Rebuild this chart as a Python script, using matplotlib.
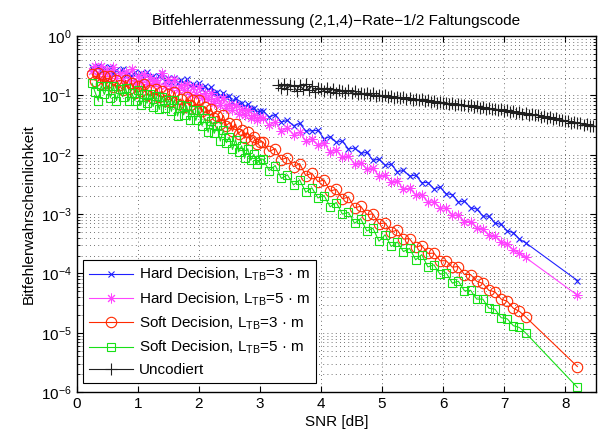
import numpy as np
import matplotlib
matplotlib.use("Agg")
import matplotlib.pyplot as plt

plt.rcParams['font.family'] = ['Liberation Sans', 'DejaVu Sans']
plt.rcParams['mathtext.fontset'] = 'custom'
plt.rcParams['mathtext.rm'] = 'Liberation Sans'
plt.rcParams['mathtext.it'] = 'Liberation Sans:italic'

# SNR grid of the coded measurements [dB]
snr_coded = [
    0.25, 0.30, 0.35, 0.40, 0.45, 0.50, 0.55, 0.60, 0.65, 0.70,
    0.75, 0.80, 0.85, 0.90, 0.95, 1.00, 1.05, 1.10, 1.15, 1.20,
    1.25, 1.30, 1.35, 1.40, 1.45, 1.50, 1.55, 1.60, 1.65, 1.70,
    1.75, 1.80, 1.85, 1.90, 1.95, 2.00, 2.05, 2.10, 2.15, 2.20,
    2.25, 2.30, 2.35, 2.40, 2.45, 2.50, 2.55, 2.60, 2.65, 2.70,
    2.75, 2.80, 2.85, 2.90, 2.95, 3.00,
    3.05, 3.15, 3.25, 3.35, 3.45, 3.55, 3.65, 3.75, 3.85, 3.95,
    4.05, 4.15, 4.25, 4.35, 4.45, 4.55, 4.65, 4.75, 4.85, 4.95,
    5.05, 5.15, 5.25, 5.35, 5.45, 5.55, 5.65, 5.75, 5.85, 5.95,
    6.05, 6.15, 6.25, 6.35, 6.45, 6.55, 6.65, 6.75, 6.85, 6.95,
    7.05, 7.15, 7.25, 7.35, 8.20,
]

hard_tb3 = [
    0.30, 0.27, 0.31, 0.26, 0.30, 0.26, 0.30, 0.23, 0.27, 0.24,
    0.28, 0.22, 0.24, 0.205, 0.25, 0.215, 0.236, 0.20, 0.25, 0.196,
    0.209, 0.18, 0.215, 0.236, 0.175, 0.194, 0.171, 0.20, 0.16, 0.181,
    0.162, 0.186, 0.143, 0.158, 0.144, 0.163, 0.13, 0.145, 0.123, 0.138,
    0.109, 0.113, 0.095, 0.111, 0.093, 0.097, 0.079, 0.092, 0.073, 0.075,
    0.064, 0.072, 0.060, 0.062, 0.052, 0.054,
    0.0555, 0.0433, 0.0475, 0.0356, 0.038, 0.0309, 0.034, 0.0251, 0.0255, 0.0257,
    0.0187, 0.0202, 0.0162, 0.0171, 0.0125, 0.013, 0.0106, 0.011, 0.0081, 0.0084,
    0.00668, 0.00694, 0.00518, 0.00546, 0.00438, 0.00454, 0.0034, 0.00341, 0.00266, 0.00286,
    0.0022, 0.00214, 0.0016, 0.00166, 0.00128, 0.00122, 9.3e-4, 9.2e-4, 7.1e-4, 6.7e-4,
    5.2e-4, 4.9e-4, 3.8e-4, 3.3e-4, 7.6e-5,
]

hard_tb5 = [
    0.254, 0.31, 0.216, 0.31, 0.213, 0.267, 0.194, 0.30, 0.20, 0.235,
    0.181, 0.247, 0.182, 0.277, 0.165, 0.209, 0.168, 0.23, 0.158, 0.204,
    0.16, 0.18, 0.144, 0.238, 0.145, 0.19, 0.135, 0.192, 0.122, 0.152,
    0.122, 0.155, 0.107, 0.138, 0.104, 0.14, 0.092, 0.111, 0.086, 0.109,
    0.074, 0.092, 0.069, 0.091, 0.062, 0.073, 0.057, 0.070, 0.049, 0.059,
    0.046, 0.056, 0.041, 0.046, 0.038, 0.044,
    0.0418, 0.0312, 0.0363, 0.0253, 0.0284, 0.0219, 0.024, 0.0174, 0.0183, 0.0145,
    0.0156, 0.0112, 0.012, 0.0091, 0.0097, 0.0069, 0.00737, 0.0058, 0.00602, 0.00437,
    0.0045, 0.00351, 0.00364, 0.00262, 0.00271, 0.00212, 0.00214, 0.0016, 0.00161, 0.00127,
    0.00127, 9.7e-4, 9.6e-4, 7.5e-4, 7.5e-4, 5.9e-4, 5.6e-4, 4.4e-4, 4.3e-4, 3.4e-4,
    3.1e-4, 2.5e-4, 2.2e-4, 1.86e-4, 4.3e-5,
]

soft_tb3 = [
    0.23, 0.178, 0.24, 0.154, 0.213, 0.16, 0.216, 0.137, 0.179, 0.15,
    0.122, 0.179, 0.127, 0.161, 0.109, 0.145, 0.118, 0.155, 0.102, 0.122,
    0.09, 0.131, 0.095, 0.117, 0.081, 0.105, 0.081, 0.116, 0.073, 0.087,
    0.064, 0.093, 0.068, 0.083, 0.06, 0.0845, 0.055, 0.064, 0.046, 0.060,
    0.042, 0.045, 0.033, 0.046, 0.031, 0.035, 0.025, 0.033, 0.0226, 0.0264,
    0.019, 0.024, 0.0176, 0.020, 0.015, 0.0166,
    0.0165, 0.0114, 0.0127, 0.0083, 0.009, 0.0063, 0.0071, 0.00446, 0.0049, 0.00352,
    0.00376, 0.00246, 0.00261, 0.00182, 0.00193, 0.00128, 0.00136, 9.8e-4, 0.00101, 6.9e-4,
    7.1e-4, 5.0e-4, 5.4e-4, 3.8e-4, 3.86e-4, 2.78e-4, 2.96e-4, 2.18e-4, 2.2e-4, 1.64e-4,
    1.64e-4, 1.28e-4, 1.31e-4, 9.6e-5, 9.6e-5, 7.4e-5, 6.8e-5, 5.2e-5, 4.9e-5, 3.7e-5,
    3.4e-5, 2.6e-5, 2.3e-5, 1.86e-5, 2.7e-6,
]

soft_tb5 = [
    0.16, 0.113, 0.082, 0.146, 0.104, 0.145, 0.092, 0.144, 0.082, 0.127,
    0.095, 0.132, 0.08, 0.11, 0.082, 0.125, 0.068, 0.104, 0.074, 0.107,
    0.065, 0.097, 0.058, 0.096, 0.062, 0.084, 0.054, 0.085, 0.045, 0.068,
    0.047, 0.066, 0.038, 0.057, 0.038, 0.056, 0.031, 0.041, 0.024, 0.037,
    0.023, 0.030, 0.017, 0.026, 0.016, 0.020, 0.0123, 0.018, 0.0112, 0.0142,
    0.0089, 0.0127, 0.0081, 0.0102, 0.0071, 0.0083,
    0.0085, 0.0054, 0.0066, 0.004, 0.0046, 0.0031, 0.0038, 0.00234, 0.00278, 0.00187,
    0.00206, 0.00133, 0.00157, 0.001, 0.00107, 7.0e-4, 8.4e-4, 5.2e-4, 5.8e-4, 3.5e-4,
    4.5e-4, 2.85e-4, 3.4e-4, 2.34e-4, 2.65e-4, 1.7e-4, 2.08e-4, 1.29e-4, 1.4e-4, 9.7e-5,
    1.03e-4, 6.9e-5, 7.4e-5, 5.1e-5, 5.2e-5, 3.7e-5, 3.7e-5, 2.6e-5, 2.5e-5, 1.8e-5,
    1.72e-5, 1.32e-5, 1.23e-5, 1.0e-5, 1.2e-6,
]

# uncoded measurement
snr_uncoded = [
    3.30, 3.35, 3.40, 3.45, 3.50, 3.55, 3.60, 3.65, 3.70, 3.75,
    3.80, 3.85, 3.90, 3.95, 4.00,
    4.05, 4.10, 4.15, 4.20, 4.25, 4.30, 4.35, 4.40, 4.45, 4.50,
    4.55, 4.60, 4.65, 4.70, 4.75, 4.80, 4.85, 4.90, 4.95, 5.00,
    5.05, 5.10, 5.15, 5.20, 5.25, 5.30, 5.35, 5.40, 5.45, 5.50,
    5.55, 5.60, 5.65, 5.70, 5.75, 5.80, 5.85, 5.90, 5.95, 6.00,
    6.05, 6.10, 6.15, 6.20, 6.25, 6.30, 6.35, 6.40, 6.45, 6.50,
    6.55, 6.60, 6.65, 6.70, 6.75, 6.80, 6.85, 6.90, 6.95, 7.00,
    7.05, 7.10, 7.15, 7.20, 7.25, 7.30, 7.35, 7.40, 7.45, 7.50,
    7.55, 7.60, 7.65, 7.70, 7.75, 7.80, 7.85, 7.90, 7.95, 8.00,
    8.05, 8.10, 8.15, 8.20, 8.25, 8.30, 8.35, 8.40, 8.45, 8.50,
]

uncoded = [
    0.15, 0.135, 0.155, 0.13, 0.15, 0.145, 0.12, 0.15, 0.13, 0.155,
    0.125, 0.145, 0.115, 0.135, 0.13,
    0.12, 0.135, 0.115, 0.13, 0.11, 0.125, 0.12, 0.108, 0.122, 0.11,
    0.118, 0.107, 0.112, 0.104, 0.11, 0.10, 0.108, 0.098, 0.103, 0.097,
    0.10, 0.094, 0.098, 0.092, 0.095, 0.09, 0.093, 0.087, 0.092, 0.085,
    0.088, 0.083, 0.086, 0.081, 0.084, 0.079, 0.081, 0.076, 0.079, 0.074,
    0.076, 0.072, 0.074, 0.07, 0.072, 0.068, 0.069, 0.066, 0.068, 0.064,
    0.066, 0.062, 0.064, 0.060, 0.062, 0.058, 0.060, 0.056, 0.058, 0.055,
    0.056, 0.053, 0.054, 0.051, 0.052, 0.049, 0.05, 0.047, 0.049, 0.046,
    0.046, 0.043, 0.045, 0.042, 0.043, 0.04, 0.041, 0.039, 0.039, 0.037,
    0.037, 0.035, 0.036, 0.034, 0.034, 0.032, 0.033, 0.031, 0.031, 0.03,
]

labels = [
    'Hard Decision, L$_{\\mathrm{TB}}$=3 \u00b7 m',
    'Hard Decision, L$_{\\mathrm{TB}}$=5 \u00b7 m',
    'Soft Decision, L$_{\\mathrm{TB}}$=3 \u00b7 m',
    'Soft Decision, L$_{\\mathrm{TB}}$=5 \u00b7 m',
    'Uncodiert',
]

fig = plt.figure(figsize=(6.02, 4.30), dpi=100)
ax = fig.add_axes([0.1276, 0.088, 0.862, 0.828])

lw = 0.8
ax.semilogy(snr_coded, hard_tb3, color='#2020ff', lw=lw, marker='x', ms=5,
            mew=0.8, label=labels[0])
ax.semilogy(snr_coded, hard_tb5, color='#ff44ff', lw=lw, marker=(8, 2, 0), ms=7,
            mew=0.7, label=labels[1])
ax.semilogy(snr_coded, soft_tb3, color='#ff2a00', lw=lw, marker='o', ms=7.5,
            mfc='none', mew=0.8, label=labels[2])
ax.semilogy(snr_coded, soft_tb5, color='#18e018', lw=lw, marker='s', ms=6,
            mfc='none', mew=0.8, label=labels[3])
ax.semilogy(snr_uncoded, uncoded, color='#202020', lw=lw, marker='+', ms=8,
            mew=0.8, label=labels[4])

ax.set_xlim(0, 8.5)
ax.set_ylim(1e-6, 1)
ax.set_xticks(range(0, 9))

dots = (0, (1, 4))
ax.grid(True, axis='x', which='major', color='#444444', linestyle=dots, lw=0.6)
ax.grid(True, axis='y', which='both', color='#444444', linestyle=dots, lw=0.6)
ax.tick_params(which='both', direction='in', top=True, right=True, labelsize=11)
ax.tick_params(which='major', length=4, width=0.8)
ax.tick_params(which='minor', length=2, width=0.6)
ax.minorticks_on()
ax.xaxis.set_minor_locator(matplotlib.ticker.NullLocator())
for s in ax.spines.values():
    s.set_linewidth(1.0)

ax.set_title('Bitfehlerratenmessung (2,1,4)\u2212Rate\u22121/2 Faltungscode',
             fontsize=11, pad=8)
ax.set_xlabel('SNR [dB]', fontsize=11, labelpad=3)
ax.set_ylabel('Bitfehlerwahrscheinlichkeit', fontsize=11, labelpad=4)

leg = ax.legend(loc='lower left', bbox_to_anchor=(0.012, 0.025), fontsize=11,
                numpoints=1, handlelength=2.9, handletextpad=0.35,
                labelspacing=0.45, borderpad=0.4, borderaxespad=0,
                fancybox=False, framealpha=1, edgecolor='black')
leg.get_frame().set_linewidth(0.8)

fig.savefig('out.png', dpi=100)
